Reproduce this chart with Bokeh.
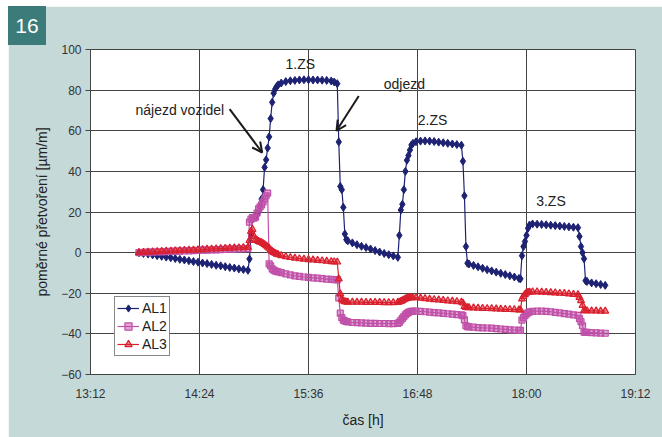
from bokeh.plotting import figure
from bokeh.models import (Range1d, FixedTicker, Legend, LegendItem, Label, Arrow,
                          OpenHead, Div)
from bokeh.layouts import column
from bokeh.embed import file_html
from bokeh.resources import INLINE

# ---------------- data ----------------
# time in minutes after 13:12
t_min = [32, 35, 38, 41, 44, 47, 50, 53, 56, 59, 62, 65, 68, 71, 74, 77, 80, 83, 86, 89, 92, 95, 98, 101, 104,
         105, 106, 107, 108, 109, 110, 111, 112, 113, 114, 115, 116, 117, 118, 119, 120, 121, 122, 123, 124,
         126, 129, 132, 135, 138, 141, 144, 147, 150, 153, 156, 159,
         161, 163,
         164, 165, 166, 167, 168, 169, 170,
         173, 176, 179, 182, 185, 188, 191, 194, 197, 200, 203,
         204, 205, 206, 207, 208, 209, 210, 211, 212, 213,
         215, 218, 221, 224, 227, 230, 233, 236, 239, 242, 245,
         246, 247, 248, 249, 250,
         253, 256, 259, 262, 265, 268, 271, 274, 277, 280, 283,
         284, 285, 286, 287, 288, 289, 290,
         292,
         295, 298, 301, 304, 307, 310, 313, 316, 319, 322,
         323, 324, 325, 326, 327, 328,
         331, 334, 337, 340]

al1 = [0, -0.4, -0.7, -1.1, -1.5, -1.8, -2.2, -2.5, -2.9, -3.3, -3.6, -4.0, -4.4, -4.7, -5.1, -5.4, -5.8, -6.2, -6.5, -6.9, -7.3, -7.6, -8.0, -8.3, -8.7,
       -3.1, 8.7, 16.5, 17.2, 17.8, 18.5, 20.0, 22.5, 26.4, 31.0, 42.0, 45.7, 51.5, 57.0, 66.0, 74.0, 78.5, 80.5, 81.8, 82.6,
       83.5, 84.2, 84.6, 84.8, 85.0, 85.1, 85.1, 85.0, 85.0, 84.9, 84.8, 84.5,
       84.0, 83.2,
       54.5, 32.6, 31.0, 22.3, 9.2, 6.4, 5.8,
       4.8, 3.9, 3.1, 2.5, 1.8, 1.0, 0.3, -0.4, -1.0, -1.6, -2.3,
       8.5, 21.0, 23.8, 31.0, 40.0, 45.5, 47.8, 50.5, 53.0, 53.8,
       54.6, 54.9, 55.0, 54.9, 54.7, 54.4, 54.1, 53.8, 53.5, 53.2, 52.9,
       45.0, 28.0, 3.0, -5.2, -5.6,
       -6.3, -7.0, -7.7, -8.4, -9.0, -9.6, -10.2, -10.8, -11.4, -12.0, -12.7,
       -12.9, -1.5, 3.0, 5.5, 8.5, 12.0, 13.6,
       14.1,
       14.0, 13.9, 13.7, 13.5, 13.3, 13.1, 12.9, 12.7, 12.5, 12.3,
       8.0, 3.0, 0.0, -3.0, -13.8, -14.2,
       -14.9, -15.3, -15.7, -16.1]

al2 = [0, 0.1, 0.2, 0.2, 0.3, 0.4, 0.5, 0.6, 0.7, 0.7, 0.8, 0.9, 1.0, 1.1, 1.2, 1.2, 1.3, 1.4, 1.5, 1.6, 1.7, 1.7, 1.8, 1.9, 2.0,
       15.0, 16.5, 17.3, 17.0, 17.5, 19.5, 21.5, 22.5, 23.5, 25.0, 26.4, 28.0, 29.3, -5.5, -6.5, -8.0, -8.6, -9.0, -9.3, -9.5,
       -9.8, -10.5, -11.0, -11.4, -11.7, -12.0, -12.2, -12.4, -12.6, -12.8, -13.0, -13.2,
       -13.3, -13.4,
       -22.3, -29.8, -32.0, -33.2, -33.6, -33.9, -34.1,
       -34.4, -34.5, -34.6, -34.7, -34.8, -34.8, -34.9, -34.9, -35.0, -35.0, -34.8,
       -34.3, -33.3, -32.4, -31.5, -30.6, -29.9, -29.4, -29.1, -28.9, -28.8,
       -28.8, -28.9, -29.1, -29.3, -29.5, -29.7, -29.9, -30.1, -30.3, -30.5, -30.6,
       -31.0, -33.1, -36.0, -36.5, -36.6,
       -36.7, -36.9, -37.0, -37.1, -37.2, -37.4, -37.6, -37.8, -38.0, -38.1, -38.3,
       -38.3, -33.2, -32.0, -31.0, -30.2, -29.6, -29.2,
       -28.9,
       -28.8, -28.8, -28.9, -29.1, -29.4, -29.7, -30.0, -30.3, -30.6, -30.9,
       -32.5, -34.0, -36.0, -39.2, -39.3, -39.3,
       -39.4, -39.5, -39.6, -39.7]

al3 = [0, 0.2, 0.3, 0.4, 0.5, 0.6, 0.7, 0.8, 0.9, 1.0, 1.1, 1.2, 1.3, 1.4, 1.5, 1.7, 1.8, 1.9, 2.0, 2.1, 2.2, 2.3, 2.4, 2.5, 2.6,
       6.0, 10.5, 11.5, 8.0, 6.5, 6.0, 5.5, 5.2, 5.0, 4.5, 4.0, 3.4, 2.8, 2.2, 1.2, 0.6, 0.1, -0.3, -0.7, -1.0,
       -1.5, -2.0, -2.4, -2.7, -3.0, -3.2, -3.4, -3.6, -3.8, -4.0, -4.2, -4.4,
       -4.5, -4.6,
       -12.9, -20.3, -23.0, -23.8, -24.1, -24.3, -24.4,
       -24.4, -24.4, -24.4, -24.5, -24.5, -24.5, -24.5, -24.6, -24.6, -24.6, -24.5,
       -24.3, -24.0, -23.6, -23.2, -22.8, -22.5, -22.3, -22.2, -22.1, -22.1,
       -22.2, -22.4, -22.6, -22.9, -23.1, -23.3, -23.5, -23.7, -23.9, -24.1, -24.3,
       -24.8, -26.5, -27.0, -27.1, -27.1,
       -27.2, -27.3, -27.4, -27.5, -27.6, -27.7, -27.8, -27.9, -28.0, -28.1, -28.2,
       -28.2, -22.8, -21.5, -20.5, -19.8, -19.5, -19.4,
       -19.3,
       -19.3, -19.4, -19.5, -19.7, -19.8, -20.0, -20.1, -20.3, -20.5, -20.7,
       -22.0, -23.6, -26.0, -28.5, -28.6, -28.6,
       -28.7, -28.7, -28.8, -28.8]

series_names = ["AL1", "AL2", "AL3"]
x_tick_labels = ["13:12", "14:24", "15:36", "16:48", "18:00", "19:12"]
y_ticks = [-60, -40, -20, 0, 20, 40, 60, 80, 100]

# ---------------- figure ----------------
FONT = "Liberation Sans"
PANEL = "#C5D9D8"
GRID = "#444444"

def clock_to_min(s):
    h, m = s.split(":")
    return int(h) * 60 + int(m) - (13 * 60 + 12)

x_tick_pos = [clock_to_min(s) for s in x_tick_labels]

p = figure(width=654, height=431, margin=(6, 0, 0, 8),
           x_range=Range1d(x_tick_pos[0], x_tick_pos[-1]), y_range=Range1d(-60, 100),
           output_backend="svg", toolbar_location=None,
           min_border_left=82, min_border_right=27, min_border_top=43, min_border_bottom=63,
           background_fill_color="white", border_fill_color=PANEL,
           outline_line_color=GRID, outline_line_width=1)

p.xaxis.ticker = FixedTicker(ticks=x_tick_pos)
p.xaxis.major_label_overrides = {pos: lab for pos, lab in zip(x_tick_pos, x_tick_labels)}
p.yaxis.ticker = FixedTicker(ticks=y_ticks)

for ax in (p.xaxis[0], p.yaxis[0]):
    ax.axis_line_color = GRID
    ax.major_tick_line_color = GRID
    ax.minor_tick_line_color = None
    ax.major_tick_in = 0
    ax.major_label_text_font = FONT
    ax.major_label_text_font_size = "12px"
    ax.major_label_text_color = "#333333"
    ax.axis_label_text_font = FONT
    ax.axis_label_text_font_size = "14px"
    ax.axis_label_text_font_style = "normal"
    ax.axis_label_text_color = "#222222"

p.xaxis.major_tick_out = 0
p.xaxis.major_label_standoff = 12
p.xaxis.axis_label = "čas [h]"
p.xaxis.axis_label_standoff = 8

p.yaxis.major_tick_out = 5
p.yaxis.major_label_standoff = 4
p.yaxis.axis_label = "poměrné přetvoření [µm/m]"
p.yaxis.axis_label_standoff = 8

p.xgrid.grid_line_color = GRID
p.ygrid.grid_line_color = GRID
p.xgrid.grid_line_width = 1
p.ygrid.grid_line_width = 1

# ---------------- series ----------------
NAVY = "#1E2272"
MAG = "#C050A8"
RED = "#D9202E"

l1 = p.line(t_min, al1, line_color=NAVY, line_width=1.2)
m1 = p.scatter(t_min, al1, marker="diamond", size=8, fill_color=NAVY, line_color=NAVY)
l2 = p.line(t_min, al2, line_color=MAG, line_width=1.2)
m2 = p.scatter(t_min, al2, marker="square", size=6, fill_color=MAG, fill_alpha=0.5,
               line_color=MAG, line_width=1.2)
l3 = p.line(t_min, al3, line_color=RED, line_width=1.2)
m3 = p.scatter(t_min, al3, marker="triangle", size=7, fill_color=RED, fill_alpha=0.5,
               line_color=RED, line_width=1.2)

legend = Legend(items=[LegendItem(label=series_names[0], renderers=[l1, m1]),
                       LegendItem(label=series_names[1], renderers=[l2, m2]),
                       LegendItem(label=series_names[2], renderers=[l3, m3])],
                location=(24, 18), orientation="vertical",
                border_line_color="#111111", border_line_width=1,
                background_fill_color="white", background_fill_alpha=1,
                padding=2, spacing=0, margin=0,
                label_text_font=FONT, label_text_font_size="14px", label_text_color="#222222",
                glyph_width=22, glyph_height=18, label_height=18, label_standoff=3)
p.add_layout(legend)

# ---------------- annotations ----------------
def txt(x, y, s):
    p.add_layout(Label(x=x, y=y, text=s, text_font=FONT, text_font_size="14px",
                       text_color="#222222", text_align="left", text_baseline="middle"))

txt(128.8, 92.9, "1.ZS")
txt(29.7, 70.3, "nájezd vozidel")
txt(193.7, 83.2, "odjezd")
txt(216.2, 65.4, "2.ZS")
txt(294.4, 25.6, "3.ZS")

p.add_layout(Arrow(end=OpenHead(size=10, line_width=2, line_color="#1a1a1a"),
                   x_start=91.9, y_start=70.6, x_end=113.4, y_end=49.3,
                   line_width=2, line_color="#1a1a1a"))
p.add_layout(Arrow(end=OpenHead(size=10, line_width=2, line_color="#1a1a1a"),
                   x_start=177.2, y_start=77.1, x_end=162.5, y_end=60.0,
                   line_width=2, line_color="#1a1a1a"))

# "16" badge in the top-left corner, overlaid on the figure
badge = Div(text="16", width=38, height=39, margin=(-431, 0, 0, 8),
            styles={"background-color": "#3B7B79", "color": "white",
                    "font-family": "Liberation Sans", "font-size": "21px",
                    "text-align": "center", "line-height": "39px",
                    "z-index": "10", "position": "relative"})

layout = column(p, badge, spacing=0)

open("out.html", "w").write(file_html(layout, INLINE))
